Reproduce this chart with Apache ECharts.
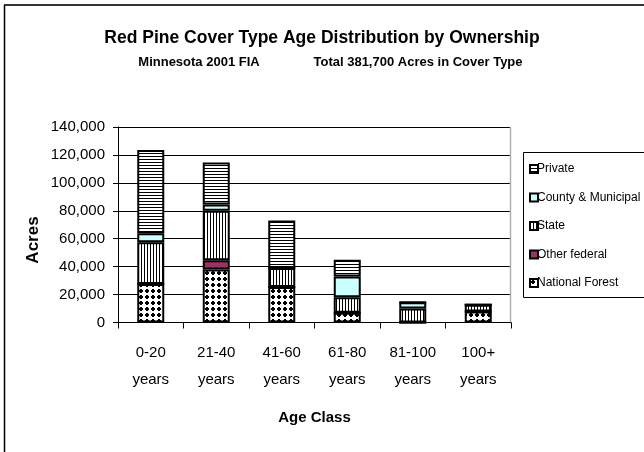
<!DOCTYPE html>
<html><head><meta charset="utf-8">
<script src="https://cdn.jsdelivr.net/npm/echarts@6/dist/echarts.min.js"></script>
<style>html,body{margin:0;padding:0;background:#fff}#c{width:644px;height:452px}</style>
</head><body><div id="c"></div>
<script>
var categories = ['0-20\nyears','21-40\nyears','41-60\nyears','61-80\nyears','81-100\nyears','100+\nyears'];
var nationalForest = [27500, 38000, 25500, 7000, 0, 7800];
var otherFederal   = [0, 6500, 0, 0, 0, 0];
var state          = [30000, 35500, 13500, 11000, 10000, 5000];
var county         = [6500, 4500, 0, 15000, 4500, 0];
var privateOwn     = [59500, 30000, 34000, 12000, 0, 0];
var yTicks = [0, 20000, 40000, 60000, 80000, 100000, 120000, 140000];

function tile(w, h, draw){
  var c = document.createElement('canvas'); c.width = w; c.height = h;
  var g = c.getContext('2d'); g.fillStyle = '#fff'; g.fillRect(0,0,w,h); g.fillStyle = '#000'; draw(g);
  return {image: c, repeat: 'repeat'};
}
var hLines = tile(4, 3, function(g){ g.fillRect(0,0,4,1); });
var vLines = tile(3, 4, function(g){ g.fillRect(0,0,1,4); });
var dots = tile(6, 6, function(g){ g.fillRect(2,1,2,4); g.fillRect(1,2,4,2); });

function ser(name, data, color){
  return {name: name, type: 'bar', stack: 'a', data: data, barWidth: 27,
    itemStyle: {color: color, borderColor: '#000', borderWidth: 2}};
}
var chart = echarts.init(document.getElementById('c'));
var F = '"Liberation Sans", Arial, sans-serif';
chart.setOption({
  animation: false,
  backgroundColor: '#fff',
  grid: {left: 118, top: 127, right: 133, bottom: 129.5},
  legend: {
    data: ['Private','County & Municipal','State','Other federal','National Forest'],
    orient: 'vertical', left: 524, top: 158, itemWidth: 8, itemHeight: 8, itemGap: 16.5,
    textStyle: {fontFamily: F, fontSize: 12, color: '#000', padding: [0,0,0,-6]},
    icon: 'rect'
  },
  xAxis: {
    type: 'category', data: categories,
    axisLine: {lineStyle: {color: '#000', width: 1}},
    axisTick: {show: true, length: 6, lineStyle: {color: '#000'}},
    axisLabel: {fontFamily: F, fontSize: 15, color: '#000', lineHeight: 27, margin: 17},
    name: 'Age Class', nameLocation: 'middle', nameGap: 88,
    nameTextStyle: {fontFamily: F, fontSize: 15, fontWeight: 'bold', color: '#000'}
  },
  yAxis: {
    type: 'value', min: 0, max: 140000, interval: 20000,
    axisLine: {show: true, lineStyle: {color: '#000', width: 1}},
    axisTick: {show: true, length: 5, lineStyle: {color: '#000'}},
    splitLine: {lineStyle: {color: '#000', width: 1}},
    axisLabel: {fontFamily: F, fontSize: 15, color: '#000', margin: 13,
      formatter: function(v){ return yTicks.indexOf(v) >= 0 ? v.toLocaleString('en-US') : ''; }}
  },
  graphic: [
    {type: 'line', shape: {x1: 4, y1: 5, x2: 644, y2: 5}, style: {stroke: '#333', lineWidth: 2}, silent: true},
    {type: 'line', shape: {x1: 4.5, y1: 5, x2: 4.5, y2: 452}, style: {stroke: '#000', lineWidth: 1.5}, silent: true},
    {type: 'line', shape: {x1: 510.5, y1: 127, x2: 510.5, y2: 322}, style: {stroke: '#b0b0b0', lineWidth: 1.5}, silent: true, z: 1},
    {type: 'rect', shape: {x: 523.5, y: 152.5, width: 140, height: 145}, style: {fill: 'none', stroke: '#000', lineWidth: 1}, silent: true},
    {type: 'text', x: 322, y: 38, style: {text: 'Red Pine Cover Type Age Distribution by Ownership', font: 'bold 17.5px ' + F, fill: '#000', textAlign: 'center', textVerticalAlign: 'middle'}},
    {type: 'text', x: 199, y: 62, style: {text: 'Minnesota 2001 FIA', font: 'bold 13px ' + F, fill: '#000', textAlign: 'center', textVerticalAlign: 'middle'}},
    {type: 'text', x: 418, y: 62, style: {text: 'Total 381,700 Acres in Cover Type', font: 'bold 13px ' + F, fill: '#000', textAlign: 'center', textVerticalAlign: 'middle'}},
    {type: 'text', x: 33, y: 240, rotation: Math.PI / 2, style: {text: 'Acres', font: 'bold 17px ' + F, fill: '#000', textAlign: 'center', textVerticalAlign: 'middle'}}
  ],
  series: [
    ser('National Forest', nationalForest, dots),
    ser('Other federal', otherFederal, '#993366'),
    ser('State', state, vLines),
    ser('County & Municipal', county, '#ccffff'),
    ser('Private', privateOwn, hLines)
  ]
});
</script></body></html>
